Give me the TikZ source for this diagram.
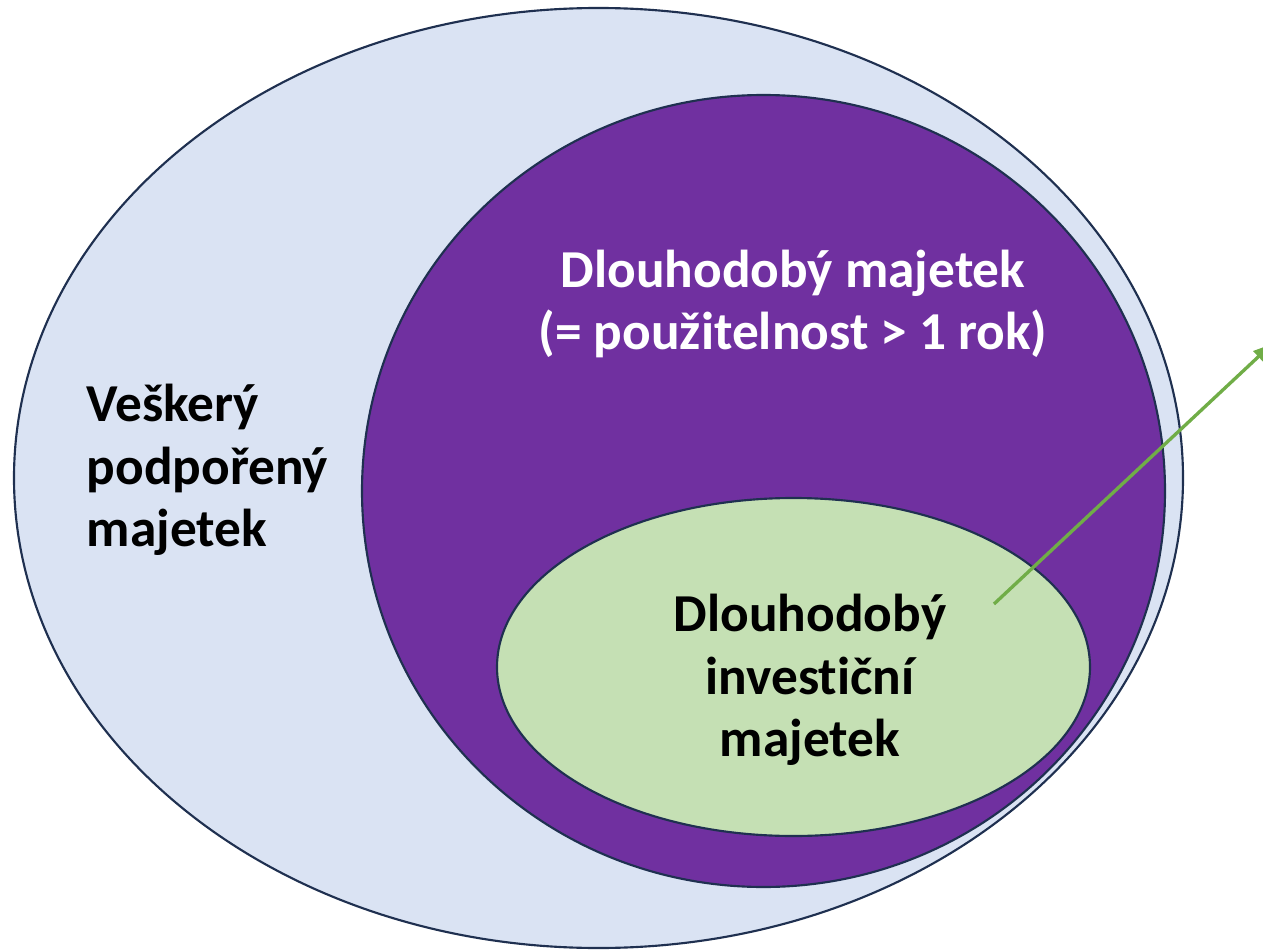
\documentclass[tikz,border=0pt]{standalone}
\usepackage{fontspec}
\setmainfont{Carlito}[Ligatures={NoCommon}]
\usetikzlibrary{arrows.meta}
\definecolor{rimblue}{HTML}{1F3050}
\definecolor{allfill}{HTML}{DAE3F3}
\definecolor{longfill}{HTML}{7030A0}
\definecolor{investfill}{HTML}{C5E0B4}
\definecolor{pointgreen}{HTML}{70AD47}
\tikzset{
  setline/.style={draw=rimblue, line width=1.6pt},
  label/.style={font=\fontsize{40}{47}\selectfont\bfseries}
}
\begin{document}
\begin{tikzpicture}[x=0.75pt, y=-0.75pt]
    \useasboundingbox (0,0) rectangle (1263,952);

    \draw [setline, fill=allfill] (598.5,478) ellipse (584.5 and 470);
    \node [label, align=left, anchor=west] (all) at (82,470)
      {Veškerý\\podpořený\\majetek};

    \draw [setline, fill=longfill] (763.5,491) ellipse (401.5 and 396);
    \node [label, align=center, text=white] (long) at (793,304)
      {Dlouhodobý majetek\\(= použitelnost > 1 rok)};

    \draw [setline, fill=investfill] (793.5,667) ellipse (296.5 and 169);
    \node [label, align=center] (invest) at (810,680)
      {Dlouhodobý\\investiční\\majetek};

    \coordinate (arrstart) at (994,604);
    \coordinate (arrend) at (1272,344);
    \draw [pointgreen, line width=2.5pt, -{Triangle[length=14pt,width=11pt]}]
      (arrstart) -- (arrend);

  \end{tikzpicture}
\end{document}
